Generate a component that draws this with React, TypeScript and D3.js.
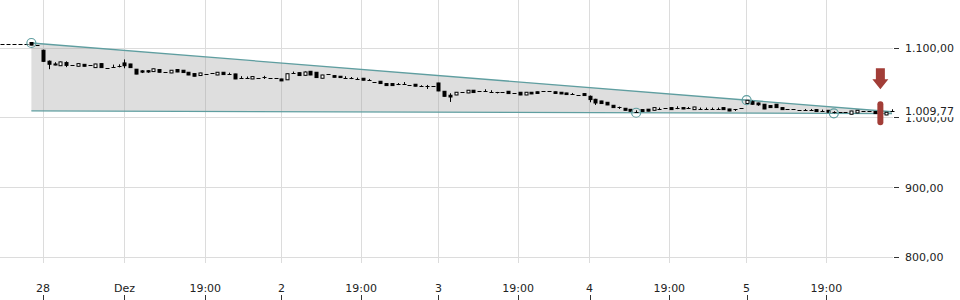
import React from "react";
import * as d3 from "d3";

// ---- data ----
const opens = [
  1105.8, 1105.8, 1105.6, 1106.0, 1106.2, 1108.3, 1104.5, 1097.2, 1081.5, 1076.0,
  1075.0, 1079.5, 1076.6, 1074.2, 1077.0, 1075.6, 1072.3, 1078.0, 1072.3, 1072.3,
  1074.2, 1079.0, 1077.5, 1070.0, 1067.6, 1067.8, 1066.6, 1069.5, 1066.6, 1064.6,
  1069.5, 1068.5, 1065.6, 1063.7, 1060.9, 1063.7, 1064.2, 1061.7, 1065.6, 1062.2,
  1063.2, 1057.0, 1057.0, 1056.0, 1058.0, 1058.0, 1058.0, 1057.4, 1056.0, 1054.8,
  1063.6, 1065.0, 1061.2, 1067.0, 1065.6, 1057.0, 1063.4, 1060.8, 1059.9, 1057.2,
  1056.0, 1055.0, 1057.0, 1053.5, 1052.2, 1052.7, 1049.4, 1049.4, 1047.4, 1047.8,
  1047.9, 1048.4, 1045.0, 1045.3, 1046.5, 1050.2, 1038.3, 1032.6, 1033.0, 1036.9,
  1035.9, 1039.8, 1038.8, 1037.6, 1037.6, 1037.0, 1036.9, 1038.3, 1035.5, 1036.9,
  1033.0, 1036.9, 1037.6, 1038.8, 1039.3, 1037.6, 1036.9, 1035.9, 1033.4, 1033.0,
  1035.0, 1031.1, 1026.8, 1024.4, 1022.5, 1018.2, 1015.8, 1013.9, 1012.4, 1008.2,
  1012.0, 1012.6, 1011.0, 1012.2, 1013.9, 1014.9, 1013.0, 1014.9, 1013.0, 1012.0,
  1012.2, 1012.3, 1012.3, 1012.2, 1014.9, 1012.9, 1012.5, 1013.9, 1020.7, 1023.5,
  1021.5, 1019.7, 1017.8, 1019.7, 1014.9, 1012.9, 1012.9, 1011.0, 1011.0, 1010.3,
  1012.0, 1009.6, 1011.0, 1009.0, 1008.2, 1008.2, 1005.3, 1007.2, 1010.0, 1009.6,
  1009.2, 1008.2, 1004.3, 1009.0,
];
const highs = [
  1105.8, 1105.8, 1105.6, 1106.0, 1106.2, 1108.6, 1104.5, 1098.0, 1082.5, 1080.0,
  1081.0, 1081.3, 1076.6, 1078.2, 1077.2, 1075.6, 1077.7, 1078.2, 1072.3, 1076.6,
  1077.0, 1084.0, 1077.7, 1070.3, 1068.5, 1068.5, 1070.8, 1069.7, 1066.6, 1068.7,
  1069.7, 1068.7, 1065.8, 1063.9, 1064.8, 1063.7, 1064.2, 1065.8, 1065.8, 1065.0,
  1063.4, 1060.0, 1059.5, 1059.6, 1058.0, 1060.5, 1058.0, 1057.4, 1056.2, 1063.7,
  1066.6, 1065.2, 1066.8, 1067.2, 1065.8, 1061.9, 1063.4, 1061.0, 1060.1, 1059.9,
  1058.8, 1057.9, 1057.2, 1056.0, 1052.2, 1052.9, 1049.6, 1049.6, 1050.2, 1051.6,
  1047.9, 1048.6, 1047.0, 1047.4, 1046.5, 1050.5, 1038.5, 1035.5, 1037.1, 1036.9,
  1040.0, 1040.0, 1038.8, 1041.2, 1039.8, 1037.4, 1036.9, 1038.5, 1035.5, 1037.1,
  1037.1, 1037.1, 1037.8, 1038.8, 1039.3, 1037.8, 1037.1, 1036.1, 1035.9, 1033.0,
  1035.2, 1032.2, 1027.5, 1024.6, 1022.7, 1018.4, 1016.3, 1014.1, 1012.6, 1011.0,
  1012.2, 1012.8, 1015.1, 1014.9, 1013.9, 1015.1, 1016.8, 1015.1, 1015.8, 1016.0,
  1014.9, 1014.9, 1014.9, 1014.9, 1015.1, 1013.1, 1012.9, 1013.9, 1025.6, 1025.0,
  1022.0, 1019.9, 1018.0, 1019.9, 1015.1, 1012.9, 1012.9, 1011.0, 1012.9, 1012.9,
  1012.2, 1012.0, 1011.2, 1009.6, 1008.2, 1008.2, 1010.2, 1011.2, 1010.0, 1009.6,
  1009.4, 1008.4, 1008.4, 1012.5,
];
const lows = [
  1105.8, 1105.8, 1105.6, 1106.0, 1106.2, 1104.4, 1104.5, 1080.5, 1070.0, 1075.6,
  1074.8, 1073.0, 1076.6, 1074.0, 1074.0, 1075.6, 1072.1, 1072.1, 1072.3, 1072.0,
  1072.6, 1071.3, 1072.1, 1062.8, 1064.5, 1064.8, 1066.4, 1065.4, 1066.6, 1064.4,
  1065.8, 1065.0, 1061.5, 1059.7, 1060.7, 1063.7, 1064.2, 1061.5, 1062.1, 1062.0,
  1055.8, 1056.8, 1056.8, 1055.8, 1058.0, 1056.0, 1058.0, 1057.4, 1053.0, 1054.6,
  1063.2, 1060.7, 1061.0, 1061.5, 1057.8, 1056.8, 1063.4, 1058.2, 1057.8, 1057.0,
  1055.8, 1054.8, 1054.0, 1053.2, 1052.2, 1049.2, 1046.3, 1046.3, 1047.2, 1047.4,
  1047.9, 1045.4, 1044.7, 1041.6, 1046.5, 1038.5, 1030.8, 1023.0, 1032.8, 1036.9,
  1035.7, 1036.3, 1038.8, 1037.3, 1035.9, 1035.2, 1036.9, 1034.8, 1035.5, 1032.8,
  1032.8, 1034.3, 1035.0, 1038.8, 1039.3, 1035.0, 1034.3, 1033.4, 1033.0, 1033.0,
  1032.0, 1022.5, 1018.7, 1020.5, 1018.5, 1014.7, 1012.9, 1010.8, 1009.4, 1007.5,
  1009.0, 1009.6, 1010.8, 1011.9, 1013.9, 1011.8, 1012.7, 1012.7, 1012.8, 1011.8,
  1012.0, 1012.0, 1012.0, 1012.0, 1011.8, 1009.8, 1010.0, 1013.9, 1020.5, 1019.0,
  1017.5, 1012.7, 1014.7, 1014.7, 1011.8, 1012.9, 1012.9, 1011.0, 1010.8, 1010.0,
  1009.0, 1009.2, 1008.0, 1006.6, 1008.2, 1008.2, 1005.1, 1007.0, 1010.0, 1009.6,
  1006.1, 1005.3, 1004.1, 1008.8,
];
const closes = [
  1105.8, 1105.8, 1105.6, 1106.0, 1106.2, 1104.6, 1104.5, 1081.3, 1077.1, 1077.5,
  1080.5, 1075.5, 1076.6, 1078.0, 1074.2, 1075.6, 1077.5, 1072.3, 1072.3, 1073.5,
  1074.6, 1075.0, 1072.3, 1063.0, 1065.8, 1066.0, 1070.6, 1065.6, 1066.6, 1068.5,
  1066.0, 1065.2, 1061.7, 1059.9, 1064.6, 1063.7, 1064.2, 1065.6, 1062.3, 1063.2,
  1056.0, 1058.0, 1057.8, 1059.4, 1058.0, 1058.2, 1058.0, 1057.4, 1053.2, 1063.5,
  1064.4, 1060.9, 1066.0, 1061.7, 1058.0, 1061.7, 1063.4, 1058.4, 1058.0, 1058.0,
  1057.0, 1056.0, 1054.2, 1054.5, 1052.2, 1049.4, 1046.5, 1046.5, 1048.4, 1048.7,
  1047.9, 1045.6, 1046.0, 1045.6, 1046.5, 1038.8, 1031.1, 1030.1, 1036.9, 1036.9,
  1039.8, 1036.5, 1038.8, 1038.6, 1037.8, 1036.0, 1036.9, 1035.0, 1035.5, 1033.0,
  1036.9, 1034.5, 1035.2, 1038.8, 1039.3, 1035.2, 1034.5, 1033.6, 1034.2, 1033.0,
  1032.2, 1026.4, 1021.5, 1020.7, 1018.7, 1014.9, 1014.5, 1011.0, 1009.6, 1008.4,
  1009.2, 1009.8, 1014.9, 1013.0, 1013.9, 1012.0, 1014.0, 1012.9, 1014.0, 1015.8,
  1013.0, 1013.0, 1013.1, 1013.0, 1012.0, 1010.0, 1011.2, 1013.9, 1025.4, 1019.7,
  1018.9, 1012.9, 1014.9, 1014.9, 1012.0, 1012.9, 1012.9, 1011.0, 1011.6, 1011.2,
  1009.2, 1010.5, 1008.2, 1009.2, 1008.2, 1008.2, 1010.0, 1011.0, 1010.0, 1009.6,
  1006.3, 1005.5, 1008.2, 1009.77,
];

const xTickLabels = ["28", "Dez", "19:00", "2", "19:00", "3", "19:00", "4", "19:00", "5", "19:00"];
const xTickIndex = [7, 21, 34.9, 48, 61.7, 75, 88.7, 101, 114.7, 128, 141.7];
const yTicks = [800, 900, 1000, 1100];

// trend channel pivots (candle index, value)
const upperPivotIdx = [5, 128];
const upperPivotVal = [1107.6, 1025.6];
const lowerPivotIdx = [109, 143];
const lowerPivotVal = [1007.5, 1006.6];
const signalIdx = 151;
const lastPrice = 1009.77;

const TEAL = "#5f9ea0";
const RED = "#a23d37";

const de = d3.formatLocale({ decimal: ",", thousands: ".", grouping: [3], currency: ["", " €"] });
const fmt = de.format(",.2f");

function lineAt(idxs: number[], vals: number[], i: number) {
  const s = (vals[1] - vals[0]) / (idxs[1] - idxs[0]);
  return vals[0] + (i - idxs[0]) * s;
}

export default function App() {
  const W = 960, H = 300;
  const n = closes.length;
  const x = d3.scaleLinear().domain([0, n - 1]).range([2.3, 892]);
  const y = d3.scaleLinear().domain([800, 1100]).range([257.3, 48.3]);
  const plotRight = 893;

  const i0 = upperPivotIdx[0];
  const i1 = n - 1;
  const poly: [number, number][] = [
    [x(i0), y(lineAt(upperPivotIdx, upperPivotVal, i0))],
    [x(i1), y(lineAt(upperPivotIdx, upperPivotVal, i1))],
    [x(i1), y(lineAt(lowerPivotIdx, lowerPivotVal, i1))],
    [x(i0), y(lineAt(lowerPivotIdx, lowerPivotVal, i0))],
  ];
  const polyPath = d3.line()(poly) + "Z";

  const sx = x(signalIdx);
  const sMid = y((opens[signalIdx] + closes[signalIdx]) / 2);
  const arrowBottom = sMid - 24;

  const font = "'DejaVu Sans', sans-serif";

  return (
    <svg
      width={W}
      height={H}
      style={{ position: "absolute", left: 0, top: 0, background: "#fff" }}
      fontFamily={font}
    >
      {/* grid */}
      <g>
        {yTicks.map((t) => (
          <line key={"h" + t} x1={0} x2={plotRight} y1={y(t)} y2={y(t)} stroke="#dcdcdc" strokeWidth={1} shapeRendering="crispEdges" />
        ))}
        {xTickIndex.map((t, k) => (
          <line key={"v" + k} x1={x(t)} x2={x(t)} y1={0} y2={263} stroke="#dcdcdc" strokeWidth={1} shapeRendering="crispEdges" />
        ))}
      </g>

      {/* channel */}
      <path d={polyPath} fill="#a0a0a0" fillOpacity={0.35} stroke="none" />
      <line
        x1={poly[0][0]} y1={poly[0][1]} x2={poly[1][0]} y2={poly[1][1]}
        stroke={TEAL} strokeWidth={1.3}
      />
      <line
        x1={poly[3][0]} y1={poly[3][1]} x2={poly[2][0]} y2={poly[2][1]}
        stroke={TEAL} strokeWidth={1.3}
      />

      {/* candles */}
      <g>
        {closes.map((c, i) => {
          const o = opens[i];
          const up = c > o;
          const top = y(Math.max(o, c));
          const bot = y(Math.min(o, c));
          const cx = Math.round(x(i)) + 0.5;
          const flat = bot - top < 1;
          return (
            <g key={i}>
              {highs[i] - lows[i] > 0.01 && (
                <line x1={cx} x2={cx} y1={y(highs[i])} y2={y(lows[i])} stroke="#000" strokeWidth={1} />
              )}
              {flat ? (
                <line x1={cx - 2} x2={cx + 2} y1={Math.round(top) + 0.5} y2={Math.round(top) + 0.5} stroke="#000" strokeWidth={1} />
              ) : (
                <rect
                  x={cx - 1.5}
                  y={top}
                  width={3}
                  height={bot - top}
                  fill={up ? "#fff" : "#000"}
                  stroke="#000"
                  strokeWidth={1}
                />
              )}
            </g>
          );
        })}
      </g>

      {/* pivot circles */}
      {upperPivotIdx.map((p, k) => (
        <circle key={"u" + k} cx={x(p)} cy={y(upperPivotVal[k])} r={4.5} fill="none" stroke={TEAL} strokeWidth={1.2} />
      ))}
      {lowerPivotIdx.map((p, k) => (
        <circle key={"l" + k} cx={x(p)} cy={y(lowerPivotVal[k])} r={4.5} fill="none" stroke={TEAL} strokeWidth={1.2} />
      ))}

      {/* signal */}
      <rect x={sx - 3} y={sMid - 12} width={6} height={24} rx={3} fill={RED} />
      <path
        d={`M${sx - 4.5},${arrowBottom - 21} L${sx + 4.5},${arrowBottom - 21} L${sx + 4.5},${arrowBottom - 10} L${sx + 8},${arrowBottom - 10} L${sx},${arrowBottom} L${sx - 8},${arrowBottom - 10} L${sx - 4.5},${arrowBottom - 10} Z`}
        fill={RED}
      />

      {/* y axis */}
      <g fontSize={11} fill="#222">
        {yTicks.map((t) => (
          <g key={"yl" + t}>
            <line x1={894} x2={899} y1={y(t)} y2={y(t)} stroke="#333" strokeWidth={1} shapeRendering="crispEdges" />
            <text x={905} y={y(t)} dy="0.36em">{fmt(t)}</text>
          </g>
        ))}
        <rect x={902} y={y(lastPrice) - 7} width={58} height={13} fill="#fff" />
        <text x={905} y={y(lastPrice)} dy="0.36em">{fmt(lastPrice)}</text>
      </g>

      {/* x axis */}
      <g fontSize={11} fill="#222">
        {xTickIndex.map((t, k) => (
          <g key={"xl" + k}>
            <text x={x(t)} y={291.5} textAnchor="middle">{xTickLabels[k]}</text>
            <line x1={Math.round(x(t)) + 0.5} x2={Math.round(x(t)) + 0.5} y1={295} y2={300} stroke="#333" strokeWidth={1} />
          </g>
        ))}
      </g>
    </svg>
  );
}
